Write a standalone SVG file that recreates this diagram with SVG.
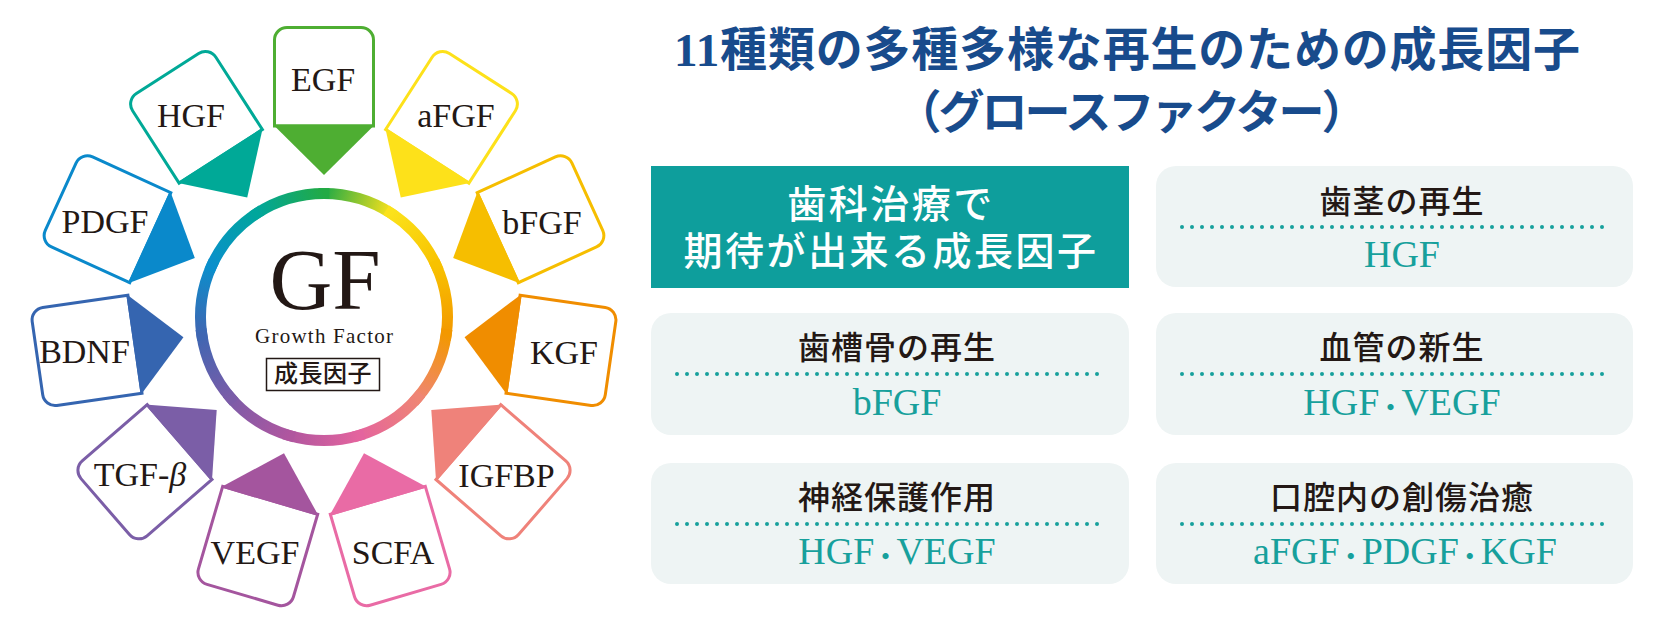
<svg xmlns="http://www.w3.org/2000/svg" xmlns:xlink="http://www.w3.org/1999/xlink" width="1658" height="626" viewBox="0 0 1658 626">
<style>
.lbl{font-family:"Liberation Serif","Noto Sans CJK JP",serif;font-size:34px;fill:#231815;text-anchor:middle}
.ttl{font-family:"Noto Sans CJK JP",sans-serif;font-size:32px;font-weight:500;fill:#231815;text-anchor:middle;letter-spacing:1px}
.val{font-family:"Liberation Serif","Noto Sans CJK JP",serif;font-size:38px;fill:#17a09c;text-anchor:middle}
.dot{font-family:"Noto Sans CJK JP",sans-serif;font-size:22px;font-weight:900}
.panel{fill:#eef4f4}
.dots{stroke:#17a09c;stroke-width:4;stroke-linecap:round;stroke-dasharray:0 10;fill:none}
.seg{fill:none;stroke-width:11;stroke-linecap:square}
.head{font-family:"Noto Sans CJK JP",sans-serif;font-weight:700;fill:#184b8c}
.wt{font-family:"Noto Sans CJK JP",sans-serif;font-size:39px;font-weight:500;fill:#fff;text-anchor:middle;letter-spacing:2.5px}
</style>
<defs>
<path id="sq" d="M274.5,126 V40 A12.5,12.5 0 0 1 287,27.5 H361 A12.5,12.5 0 0 1 373.5,40 V126 Z" fill="#fff" stroke="currentColor" stroke-width="3"/>
<polygon id="ptr" points="273,124.5 375,124.5 324,175" fill="currentColor"/>
<linearGradient id="g0" gradientUnits="userSpaceOnUse" x1="324" y1="193.5" x2="390.8" y2="213.1"><stop offset="0" stop-color="#22aa45"/><stop offset="1" stop-color="#fbe21b"/></linearGradient>
<linearGradient id="g1" gradientUnits="userSpaceOnUse" x1="390.8" y1="213.1" x2="436.3" y2="265.7"><stop offset="0" stop-color="#fbe21b"/><stop offset="1" stop-color="#f8c200"/></linearGradient>
<linearGradient id="g2" gradientUnits="userSpaceOnUse" x1="436.3" y1="265.7" x2="446.2" y2="334.6"><stop offset="0" stop-color="#f8c200"/><stop offset="1" stop-color="#f39800"/></linearGradient>
<linearGradient id="g3" gradientUnits="userSpaceOnUse" x1="446.2" y1="334.6" x2="417.3" y2="397.9"><stop offset="0" stop-color="#f39800"/><stop offset="1" stop-color="#ef8574"/></linearGradient>
<linearGradient id="g4" gradientUnits="userSpaceOnUse" x1="417.3" y1="397.9" x2="358.8" y2="435.5"><stop offset="0" stop-color="#ef8574"/><stop offset="1" stop-color="#e4649e"/></linearGradient>
<linearGradient id="g5" gradientUnits="userSpaceOnUse" x1="358.8" y1="435.5" x2="289.2" y2="435.5"><stop offset="0" stop-color="#e4649e"/><stop offset="1" stop-color="#b0569f"/></linearGradient>
<linearGradient id="g6" gradientUnits="userSpaceOnUse" x1="289.2" y1="435.5" x2="230.7" y2="397.9"><stop offset="0" stop-color="#b0569f"/><stop offset="1" stop-color="#7b5ca8"/></linearGradient>
<linearGradient id="g7" gradientUnits="userSpaceOnUse" x1="230.7" y1="397.9" x2="201.8" y2="334.6"><stop offset="0" stop-color="#7b5ca8"/><stop offset="1" stop-color="#3f66b2"/></linearGradient>
<linearGradient id="g8" gradientUnits="userSpaceOnUse" x1="201.8" y1="334.6" x2="211.7" y2="265.7"><stop offset="0" stop-color="#3f66b2"/><stop offset="1" stop-color="#0a8fcc"/></linearGradient>
<linearGradient id="g9" gradientUnits="userSpaceOnUse" x1="211.7" y1="265.7" x2="257.2" y2="213.1"><stop offset="0" stop-color="#0a8fcc"/><stop offset="1" stop-color="#00a69c"/></linearGradient>
<linearGradient id="g10" gradientUnits="userSpaceOnUse" x1="257.2" y1="213.1" x2="324" y2="193.5"><stop offset="0" stop-color="#00a69c"/><stop offset="1" stop-color="#22aa45"/></linearGradient>
</defs>
<rect width="1658" height="626" fill="#fff"/>

<g id="hub">
<path class="seg" stroke="url(#g0)" d="M324,193.5 A123.5,123.5 0 0 1 390.8,213.1"/>
<path class="seg" stroke="url(#g1)" d="M390.8,213.1 A123.5,123.5 0 0 1 436.3,265.7"/>
<path class="seg" stroke="url(#g2)" d="M436.3,265.7 A123.5,123.5 0 0 1 446.2,334.6"/>
<path class="seg" stroke="url(#g3)" d="M446.2,334.6 A123.5,123.5 0 0 1 417.3,397.9"/>
<path class="seg" stroke="url(#g4)" d="M417.3,397.9 A123.5,123.5 0 0 1 358.8,435.5"/>
<path class="seg" stroke="url(#g5)" d="M358.8,435.5 A123.5,123.5 0 0 1 289.2,435.5"/>
<path class="seg" stroke="url(#g6)" d="M289.2,435.5 A123.5,123.5 0 0 1 230.7,397.9"/>
<path class="seg" stroke="url(#g7)" d="M230.7,397.9 A123.5,123.5 0 0 1 201.8,334.6"/>
<path class="seg" stroke="url(#g8)" d="M201.8,334.6 A123.5,123.5 0 0 1 211.7,265.7"/>
<path class="seg" stroke="url(#g9)" d="M211.7,265.7 A123.5,123.5 0 0 1 257.2,213.1"/>
<path class="seg" stroke="url(#g10)" d="M257.2,213.1 A123.5,123.5 0 0 1 324,193.5"/>
<text x="325" y="309" font-family="Liberation Serif,serif" font-size="87" fill="#231815" text-anchor="middle">GF</text>
<text x="255" y="343" font-family="Liberation Serif,serif" font-size="21" fill="#231815" textLength="138" lengthAdjust="spacing">Growth Factor</text>
<rect x="266.5" y="358.5" width="113" height="32" fill="#fff" stroke="#231815" stroke-width="1.5"/>
<text x="323" y="382" font-family="Noto Sans CJK JP,sans-serif" font-size="24" font-weight="500" fill="#231815" text-anchor="middle" letter-spacing="0.5">成長因子</text>
</g>

<g id="node-egf" color="#4eae32"><use href="#sq" transform="rotate(0 324 317)"/><text class="lbl" x="323" y="91">EGF</text></g>
<g id="node-afgf" color="#fde11a"><use href="#sq" transform="rotate(32.727 324 317)"/><text class="lbl" x="456" y="127">aFGF</text></g>
<g id="node-bfgf" color="#f6be00"><use href="#sq" transform="rotate(65.455 324 317)"/><text class="lbl" x="542" y="234">bFGF</text></g>
<g id="node-kgf" color="#f08d00"><use href="#sq" transform="rotate(98.182 324 317)"/><text class="lbl" x="564" y="364">KGF</text></g>
<g id="node-igfbp" color="#ef827a"><use href="#sq" transform="rotate(130.909 324 317)"/><text class="lbl" x="506.5" y="487">IGFBP</text></g>
<g id="node-scfa" color="#e96ba5"><use href="#sq" transform="rotate(163.636 324 317)"/><text class="lbl" x="393" y="564">SCFA</text></g>
<g id="node-vegf" color="#a4559e"><use href="#sq" transform="rotate(196.364 324 317)"/><text class="lbl" x="255" y="564">VEGF</text></g>
<g id="node-tgfb" color="#7b5ea7"><use href="#sq" transform="rotate(229.091 324 317)"/><text class="lbl" x="140" y="486">TGF-<tspan font-style="italic">β</tspan></text></g>
<g id="node-bdnf" color="#3565b0"><use href="#sq" transform="rotate(261.818 324 317)"/><text class="lbl" x="84.5" y="363">BDNF</text></g>
<g id="node-pdgf" color="#0a89cb"><use href="#sq" transform="rotate(294.545 324 317)"/><text class="lbl" x="105" y="233">PDGF</text></g>
<g id="node-hgf" color="#00a997"><use href="#sq" transform="rotate(327.273 324 317)"/><text class="lbl" x="191" y="127">HGF</text></g>

<g id="connectors">
<use href="#ptr" color="#4eae32" transform="rotate(0 324 317)"/>
<use href="#ptr" color="#fde11a" transform="rotate(32.727 324 317)"/>
<use href="#ptr" color="#f6be00" transform="rotate(65.455 324 317)"/>
<use href="#ptr" color="#f08d00" transform="rotate(98.182 324 317)"/>
<use href="#ptr" color="#ef827a" transform="rotate(130.909 324 317)"/>
<use href="#ptr" color="#e96ba5" transform="rotate(163.636 324 317)"/>
<use href="#ptr" color="#a4559e" transform="rotate(196.364 324 317)"/>
<use href="#ptr" color="#7b5ea7" transform="rotate(229.091 324 317)"/>
<use href="#ptr" color="#3565b0" transform="rotate(261.818 324 317)"/>
<use href="#ptr" color="#0a89cb" transform="rotate(294.545 324 317)"/>
<use href="#ptr" color="#00a997" transform="rotate(327.273 324 317)"/>
</g>

<g id="title">
<text class="head" x="674" y="66" font-size="47" textLength="906" lengthAdjust="spacing"><tspan font-family="Liberation Serif,serif">11</tspan>種類の多種多様な再生のための成長因子</text>
<text class="head" x="1130" y="128" font-size="46" text-anchor="middle" letter-spacing="-3">（グロースファクター）</text>
</g>

<g id="panel-main">
<rect x="651" y="166" width="478" height="122" fill="#0e9e9c"/>
<text class="wt" x="891" y="218">歯科治療で</text>
<text class="wt" x="891" y="265">期待が出来る成長因子</text>
</g>

<g id="panel-gum">
<rect class="panel" x="1156" y="166" width="477" height="121" rx="20"/>
<text class="ttl" x="1402" y="213">歯茎の再生</text>
<line class="dots" x1="1182" y1="227" x2="1607" y2="227"/>
<text class="val" x="1402" y="267">HGF</text>
</g>

<g id="panel-bone">
<rect class="panel" x="651" y="313" width="478" height="122" rx="20"/>
<text class="ttl" x="897" y="359">歯槽骨の再生</text>
<line class="dots" x1="677" y1="374" x2="1103" y2="374"/>
<text class="val" x="897" y="415">bFGF</text>
</g>

<g id="panel-vessel">
<rect class="panel" x="1156" y="313" width="477" height="122" rx="20"/>
<text class="ttl" x="1402" y="359">血管の新生</text>
<line class="dots" x1="1182" y1="374" x2="1607" y2="374"/>
<text class="val" x="1402" y="415">HGF<tspan class="dot">・</tspan>VEGF</text>
</g>

<g id="panel-nerve">
<rect class="panel" x="651" y="463" width="478" height="121" rx="20"/>
<text class="ttl" x="897" y="509">神経保護作用</text>
<line class="dots" x1="677" y1="524" x2="1103" y2="524"/>
<text class="val" x="897" y="564">HGF<tspan class="dot">・</tspan>VEGF</text>
</g>

<g id="panel-oral">
<rect class="panel" x="1156" y="463" width="477" height="121" rx="20"/>
<text class="ttl" x="1402" y="509">口腔内の創傷治癒</text>
<line class="dots" x1="1182" y1="524" x2="1607" y2="524"/>
<text class="val" x="1405" y="564">aFGF<tspan class="dot">・</tspan>PDGF<tspan class="dot">・</tspan>KGF</text>
</g>
</svg>
